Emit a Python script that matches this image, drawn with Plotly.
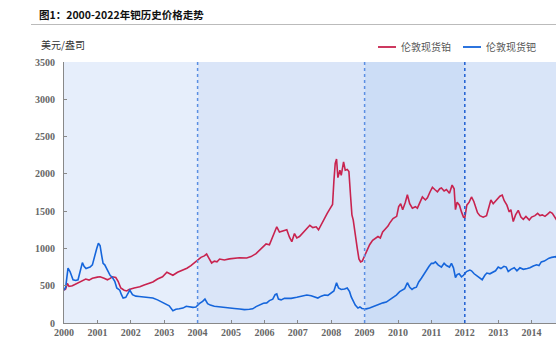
import plotly.graph_objects as go

# ---- data ----
pt_years = [2000.00, 2000.05, 2000.10, 2000.15, 2000.25, 2000.35, 2000.45, 2000.55, 2000.65, 2000.75,
            2000.85, 2001.00, 2001.08, 2001.20, 2001.30, 2001.37, 2001.45, 2001.55, 2001.62, 2001.70,
            2001.80, 2001.88, 2001.95, 2002.10, 2002.27, 2002.40, 2002.55, 2002.66, 2002.80, 2002.95,
            2003.08, 2003.18, 2003.26, 2003.40, 2003.55, 2003.68, 2003.80, 2003.90, 2003.98, 2004.10,
            2004.20, 2004.27, 2004.35, 2004.42, 2004.50, 2004.58, 2004.66, 2004.80, 2004.95, 2005.10,
            2005.25, 2005.47, 2005.60, 2005.75, 2005.86, 2005.95, 2006.05, 2006.15, 2006.25, 2006.32,
            2006.37, 2006.45, 2006.55, 2006.67, 2006.75, 2006.82, 2006.90, 2006.97, 2007.05, 2007.15,
            2007.25, 2007.36, 2007.45, 2007.55, 2007.62, 2007.72, 2007.80, 2007.88, 2007.96, 2008.04,
            2008.08, 2008.12, 2008.16, 2008.20, 2008.26, 2008.30, 2008.37, 2008.42, 2008.48, 2008.53,
            2008.58, 2008.62, 2008.66, 2008.72, 2008.78, 2008.83, 2008.88, 2008.93, 2008.98, 2009.06,
            2009.15, 2009.24, 2009.32, 2009.40, 2009.47, 2009.54, 2009.62, 2009.70, 2009.75, 2009.85,
            2009.96, 2010.02, 2010.08, 2010.14, 2010.22, 2010.28, 2010.35, 2010.43, 2010.52, 2010.58,
            2010.66, 2010.73, 2010.82, 2010.88, 2010.96, 2011.03, 2011.10, 2011.18, 2011.25, 2011.30,
            2011.38, 2011.45, 2011.54, 2011.62, 2011.68, 2011.72, 2011.77, 2011.84, 2011.90, 2011.96,
            2012.00, 2012.06, 2012.13, 2012.20, 2012.27, 2012.33, 2012.38, 2012.45, 2012.55, 2012.65,
            2012.72, 2012.78, 2012.85, 2012.89, 2012.96, 2013.05, 2013.12, 2013.18, 2013.26, 2013.33,
            2013.38, 2013.45, 2013.52, 2013.60, 2013.68, 2013.75, 2013.83, 2013.93, 2014.00, 2014.10,
            2014.18, 2014.25, 2014.32, 2014.40, 2014.48, 2014.55, 2014.62, 2014.68, 2014.75]
pt_values = [440, 455, 530, 490, 500, 520, 545, 570, 590, 575,
             600, 615, 620, 600, 580, 595, 620, 610, 560, 470,
             440, 430, 450, 470, 485, 510, 530, 550, 590, 620,
             680, 660, 640, 680, 710, 735, 770, 810, 840, 880,
             900, 925, 860, 805, 830, 820, 858, 845, 860, 865,
             875, 872, 890, 930, 980, 1010, 1060, 1050, 1150, 1230,
             1290, 1220, 1230, 1250, 1150, 1090, 1200, 1140, 1160, 1210,
             1260, 1310, 1280, 1290, 1250, 1340, 1420, 1470, 1530, 1590,
             1900, 2140, 2200, 1950, 2050, 1980, 2160, 2050, 2060, 2030,
             1700, 1450, 1380, 1150, 1000, 860, 820, 830, 880, 950,
             1050, 1110, 1130, 1160, 1140, 1220, 1260, 1300, 1340, 1400,
             1430, 1560, 1600, 1520, 1620, 1720, 1600, 1540, 1560, 1540,
             1620, 1690, 1650, 1680, 1760, 1820, 1790, 1760, 1800, 1810,
             1770, 1790, 1740, 1850, 1800, 1520, 1620, 1580, 1490, 1420,
             1410, 1580, 1620, 1690, 1630, 1560, 1480, 1440, 1420, 1440,
             1560, 1650, 1600, 1620, 1660, 1700, 1715, 1640, 1580, 1490,
             1520, 1360, 1450, 1510, 1420, 1390, 1430, 1380, 1420, 1440,
             1470, 1440, 1450, 1430, 1460, 1490, 1470, 1420, 1380]

pd_years = [2000.00, 2000.05, 2000.12, 2000.18, 2000.27, 2000.35, 2000.42, 2000.48, 2000.55, 2000.60,
            2000.66, 2000.72, 2000.78, 2000.85, 2000.93, 2000.98, 2001.03, 2001.08, 2001.13, 2001.17,
            2001.22, 2001.30, 2001.38, 2001.45, 2001.52, 2001.58, 2001.67, 2001.72, 2001.77, 2001.85,
            2001.93, 2001.97, 2002.05, 2002.15, 2002.25, 2002.37, 2002.50, 2002.66, 2002.80, 2002.96,
            2003.05, 2003.15, 2003.26, 2003.35, 2003.45, 2003.56, 2003.66, 2003.76, 2003.86, 2003.95,
            2004.05, 2004.15, 2004.22, 2004.30, 2004.38, 2004.50, 2004.66, 2004.80, 2004.96, 2005.10,
            2005.26, 2005.40, 2005.55, 2005.65, 2005.75, 2005.86, 2005.97, 2006.07, 2006.15, 2006.25,
            2006.32, 2006.37, 2006.42, 2006.50, 2006.60, 2006.70, 2006.80, 2006.97, 2007.10, 2007.27,
            2007.40, 2007.50, 2007.60, 2007.70, 2007.80, 2007.90, 2008.00, 2008.08, 2008.16, 2008.22,
            2008.30, 2008.40, 2008.48, 2008.55, 2008.60, 2008.66, 2008.72, 2008.80, 2008.86, 2008.92,
            2009.00, 2009.05, 2009.15, 2009.25, 2009.35, 2009.45, 2009.55, 2009.65, 2009.75, 2009.85,
            2009.95, 2010.05, 2010.12, 2010.20, 2010.28, 2010.35, 2010.42, 2010.48, 2010.55, 2010.62,
            2010.70, 2010.78, 2010.85, 2010.93, 2011.00, 2011.06, 2011.12, 2011.20, 2011.30, 2011.38,
            2011.45, 2011.54, 2011.60, 2011.66, 2011.72, 2011.77, 2011.83, 2011.90, 2011.96, 2012.05,
            2012.15, 2012.20, 2012.28, 2012.38, 2012.45, 2012.52, 2012.60, 2012.66, 2012.75, 2012.83,
            2012.92, 2013.00, 2013.08, 2013.17, 2013.24, 2013.30, 2013.38, 2013.48, 2013.56, 2013.65,
            2013.75, 2013.87, 2013.95, 2014.05, 2014.15, 2014.22, 2014.29, 2014.38, 2014.45, 2014.52,
            2014.60, 2014.66, 2014.72, 2014.76]
pd_values = [440, 480, 735, 690, 580, 570, 580, 670, 810, 760,
             730, 740, 750, 780, 930, 1000, 1070, 1040, 900, 800,
             780, 700, 640, 610, 560, 470, 440, 380, 335, 345,
             400, 440, 380, 360, 355, 350, 340, 335, 310, 270,
             245, 230, 165, 185, 190, 200, 225, 215, 210, 215,
             260, 290, 320, 260, 240, 225, 215, 205, 200, 195,
             188, 180, 185, 190, 220, 240, 265, 270, 300, 320,
             380, 390, 320, 310, 330, 330, 330, 345, 360, 375,
             365, 355, 335, 360, 375, 370, 400, 430, 540, 470,
             450, 455, 470, 420, 350, 285, 240, 200, 215, 195,
             190, 190, 200, 220, 240, 260, 270, 280, 310, 340,
             375, 420, 440, 460, 540, 480, 450, 470, 480, 550,
             600, 660, 710, 760, 800, 800, 820, 780, 750, 800,
             770, 750, 800, 740, 610, 650, 660, 620, 640, 690,
             710, 700, 660, 630, 600, 580, 640, 670, 660, 680,
             700, 750, 730, 760, 750, 690, 720, 740, 700, 740,
             720, 730, 740, 765, 780, 770, 820, 830, 850, 870,
             880, 880, 890, 870]

year_ticks = list(range(2000, 2015))
y_ticks = [0, 500, 1000, 1500, 2000, 2500, 3000, 3500]
period_edges = [2000, 2004, 2009, 2012, 2014.73]
period_colors = ["#E6EEFB", "#DAE5F8", "#CCDDF6", "#D9E5F8"]
divider_years = [2004, 2009, 2012]
divider_colors = ["#5B8FE3", "#5B8FE3", "#1F5FD2"]

series_names = ["伦敦现货铂", "伦敦现货钯"]
series_colors = ["#C8234F", "#1565DB"]

fig = go.Figure()
fig.add_trace(go.Scatter(x=pt_years, y=pt_values, mode="lines", name=series_names[0],
                         line=dict(color=series_colors[0], width=1.6), showlegend=False))
fig.add_trace(go.Scatter(x=pd_years, y=pd_values, mode="lines", name=series_names[1],
                         line=dict(color=series_colors[1], width=1.6), showlegend=False))

shapes = []
for i, c in enumerate(period_colors):
    shapes.append(dict(type="rect", xref="x", yref="paper", x0=period_edges[i], x1=period_edges[i + 1],
                       y0=0, y1=1, fillcolor=c, line=dict(width=0), layer="below"))
for xv, c in zip(divider_years, divider_colors):
    shapes.append(dict(type="line", xref="x", yref="paper", x0=xv, x1=xv, y0=0, y1=1,
                       line=dict(color=c, width=1.5, dash="3px,3px"), layer="above"))
# title underline
shapes.append(dict(type="line", xref="paper", yref="paper", x0=(31 - 64) / 492, x1=1.0,
                   y0=(323 - 24.5) / 261, y1=(323 - 24.5) / 261, line=dict(color="#BBBBBB", width=1.2)))
# manual legend
legend_items = [(378, 396, 399), (463, 481, 484)]
ann = []
for (lx0, lx1, tx), name, col in zip(legend_items, series_names, series_colors):
    yp = (323 - 47) / 261
    shapes.append(dict(type="line", xref="paper", yref="paper", x0=(lx0 - 64) / 492, x1=(lx1 - 64) / 492,
                       y0=yp, y1=yp, line=dict(color=col, width=1.8)))
    ann.append(dict(text=name, xref="paper", yref="paper", x=(tx - 64) / 492, y=yp, xanchor="left",
                    yanchor="middle", showarrow=False,
                    font=dict(family="Noto Sans CJK SC", size=10, color="#555555")))

ann.append(dict(text="<b>图1：2000-2022年钯历史价格走势</b>", xref="paper", yref="paper",
                x=(37 - 64) / 492, y=(323 - 14) / 261, xanchor="left", yanchor="middle", showarrow=False,
                font=dict(family="Noto Sans CJK SC", size=10.5, color="#111111")))
ann.append(dict(text="美元/盎司", xref="paper", yref="paper",
                x=(39 - 64) / 492, y=(323 - 45) / 261, xanchor="left", yanchor="middle", showarrow=False,
                font=dict(family="Noto Sans CJK SC", size=10, color="#333333")))

fig.update_layout(
    width=556, height=345,
    margin=dict(l=64, r=0, t=62, b=22, pad=0),
    paper_bgcolor="white", plot_bgcolor="white",
    shapes=shapes, annotations=ann,
    xaxis=dict(range=[2000, 2014.73], tickvals=year_ticks, ticktext=[str(y) for y in year_ticks],
               showline=True, linecolor="#888888", linewidth=1.2, ticks="inside", ticklen=3,
               tickcolor="#888888", showgrid=False, zeroline=False,
               tickfont=dict(family="Liberation Serif", size=10, color="#666666", weight="bold")),
    yaxis=dict(range=[0, 3500], tickvals=y_ticks, showline=True, linecolor="#888888", linewidth=1.2,
               ticks="inside", ticklen=3, tickcolor="#888888", showgrid=False, zeroline=False,
               ticklabelstandoff=6,
               tickfont=dict(family="Liberation Serif", size=10, color="#666666", weight="bold")),
)

fig.write_html("out.html")
